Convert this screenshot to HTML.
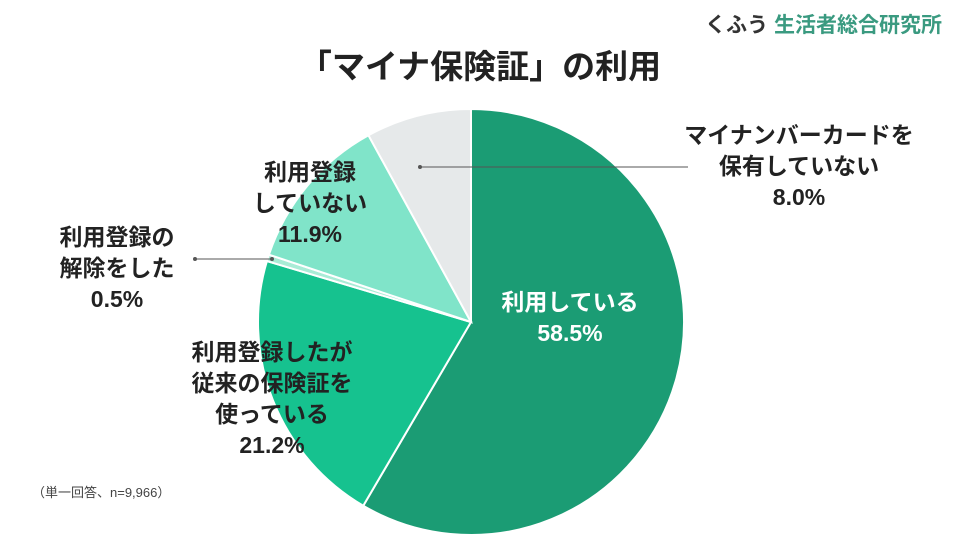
<!DOCTYPE html>
<html><head><meta charset="utf-8"><style>
body{margin:0;width:960px;height:540px;background:#fff;overflow:hidden;font-family:"Liberation Sans","Noto Sans CJK JP",sans-serif;}
svg text{font-family:"Liberation Sans","Noto Sans CJK JP",sans-serif;}
</style></head><body>
<svg width="960" height="540">
<text x="480" y="78" text-anchor="middle" font-size="33" font-weight="bold" fill="#222">「マイナ保険証」の利用</text>
<text x="942" y="32" text-anchor="end" font-size="21" font-weight="bold"><tspan fill="#333">くふう </tspan><tspan fill="#3a9a80">生活者総合研究所</tspan></text>
<g id="slices"></g>
<g id="labels"></g>
<line x1="195" y1="259" x2="272" y2="259" stroke="#555" stroke-width="1"/>
<circle cx="195" cy="259" r="2" fill="#555"/><circle cx="272" cy="259" r="2" fill="#555"/>
<line x1="420" y1="167" x2="688" y2="167" stroke="#555" stroke-width="1"/>
<circle cx="420" cy="167" r="2" fill="#555"/>
<text x="32" y="497" font-size="13" fill="#444">（単一回答、n=9,966）</text>
</svg>
<script>
const categories=["利用している","利用登録したが従来の保険証を使っている","利用登録の解除をした","利用登録していない","マイナンバーカードを保有していない"];
const values=[58.5,21.2,0.5,11.9,8.0];
const colors=["#1b9c74","#16c28f","#a9ecd6","#80e4c9","#e6e9ea"];
const labelLines=[["利用している","58.5%"],["利用登録したが","従来の保険証を","使っている","21.2%"],["利用登録の","解除をした","0.5%"],["利用登録","していない","11.9%"],["マイナンバーカードを","保有していない","8.0%"]];
const labelPos=[[570,310],[272,360],[117,245],[310,180],[799,143]];
const textColors=["#fff","#222","#222","#222","#222"];
const cx=471,cy=322,r=213;
const NS="http://www.w3.org/2000/svg";
const total=values.reduce((a,b)=>a+b,0);
let a0=0;
const g=document.getElementById('slices');
values.forEach((v,i)=>{
  const a1=a0+v/total*2*Math.PI;
  const x0=cx+r*Math.sin(a0),y0=cy-r*Math.cos(a0),x1=cx+r*Math.sin(a1),y1=cy-r*Math.cos(a1);
  const p=document.createElementNS(NS,'path');
  p.setAttribute('d',`M${cx},${cy}L${x0},${y0}A${r},${r} 0 ${a1-a0>Math.PI?1:0} 1 ${x1},${y1}Z`);
  p.setAttribute('fill',colors[i]);p.setAttribute('stroke','#fff');p.setAttribute('stroke-width','2');
  
  
  g.appendChild(p);a0=a1;
});
const lg=document.getElementById('labels');
labelLines.forEach((lines,i)=>{
  const t=document.createElementNS(NS,'text');
  t.setAttribute('text-anchor','middle');t.setAttribute('font-size','23');t.setAttribute('font-weight','bold');
  t.setAttribute('fill',textColors[i]);
  
  
  lines.forEach((s,j)=>{const ts=document.createElementNS(NS,'tspan');ts.setAttribute('x',labelPos[i][0]);ts.setAttribute('y',labelPos[i][1]+j*31);ts.textContent=j===lines.length-1?values[i].toFixed(1)+'%':s;t.appendChild(ts);});
  lg.appendChild(t);
});
</script>
</body></html>
